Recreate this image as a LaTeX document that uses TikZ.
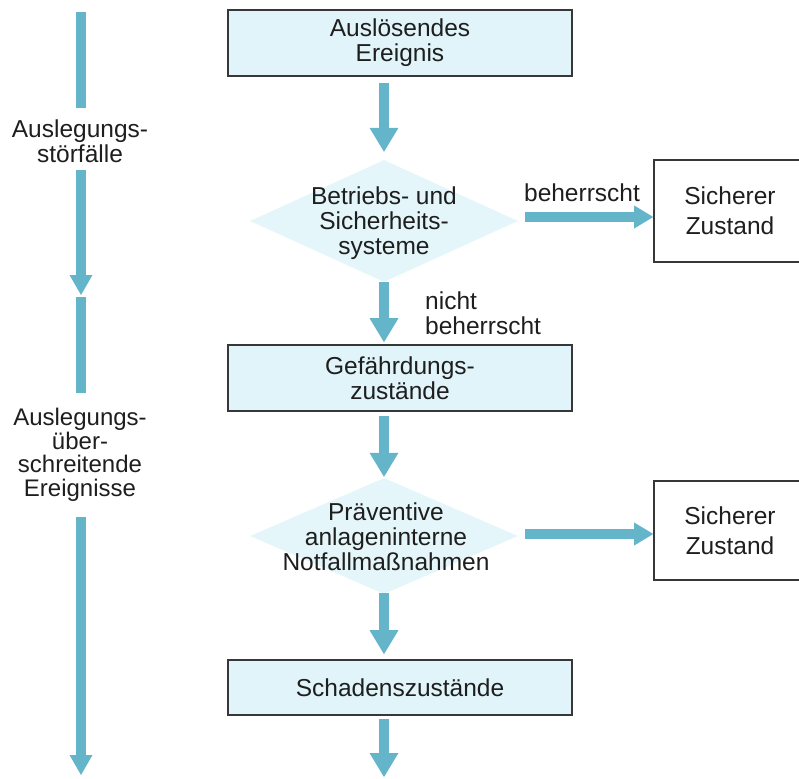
\documentclass[tikz,border=0pt]{standalone}
\usepackage{fontspec}
\setmainfont{Liberation Sans}
\usetikzlibrary{arrows.meta,shapes.geometric,calc}
\definecolor{arrowc}{RGB}{100,180,202}
\definecolor{boxfill}{RGB}{224,244,249}
\definecolor{diafill}{RGB}{228,246,250}
\definecolor{edgec}{RGB}{55,55,55}
\definecolor{textc}{RGB}{30,30,30}
\begin{document}
\begin{tikzpicture}[x=1pt,y=-1pt,
  txt/.style={font=\fontsize{24.5}{25}\selectfont, align=center, inner sep=0pt, text=textc},
  stepbox/.style={draw=edgec, line width=1.6pt, fill=boxfill, minimum width=344pt, inner sep=0pt, txt},
  endbox/.style={draw=edgec, line width=1.6pt, fill=white, minimum width=152pt, inner sep=0pt, txt, font=\fontsize{24.5}{30}\selectfont},
  decide/.style={diamond, fill=diafill, minimum width=268pt, minimum height=122pt, inner sep=0pt},
  bigarrow/.style={draw=arrowc, line width=10pt, -{Triangle[width=29pt,length=24pt,line width=0pt]}},
  sidearrow/.style={draw=arrowc, line width=10pt, -{Triangle[width=23pt,length=19pt,line width=0pt]}},
  leftarrow/.style={draw=arrowc, line width=9.5pt, -{Triangle[width=23pt,length=20pt,line width=0pt]}},
  bar/.style={draw=arrowc, line width=9.5pt},
  ]
\useasboundingbox (0,0) rectangle (799,778);

% main column
\node[stepbox, minimum height=66pt] (b1) at (400,43) {Auslösendes\\Ereignis};
\node[decide] (d1) at (384,221) {};
\node[txt] (d1t) at (384,223) {Betriebs- und\\Sicherheits-\\systeme};
\node[endbox, minimum height=102pt] (s1) at (730,211) {Sicherer\\Zustand};
\node[stepbox, minimum height=66pt] (b2) at (400,378) {Gefährdungs-\\zustände};
\node[decide, minimum height=116pt] (d2) at (384,536) {};
\node[txt] (d2t) at (386,537) {Präventive\\anlageninterne\\Notfallmaßnahmen};
\node[endbox, minimum height=99pt] (s2) at (730,530.5) {Sicherer\\Zustand};
\node[stepbox, minimum height=55pt] (b3) at (400,687.5) {Schadenszustände};
\coordinate (fin) at (384,777);

% labels
\node[txt] (lb1) at (582,193) {beherrscht};
\node[txt, align=left, anchor=north west] (lb2) at (425,292) {nicht\\beherrscht};

% vertical arrows
\draw[bigarrow, shorten <=6pt, shorten >=8pt] (b1.south -| d1.north) -- (d1.north);
\draw[bigarrow, shorten >=2pt] (d1.south) -- (b2.north -| d1.south);
\draw[bigarrow, shorten <=4pt, shorten >=1pt] (b2.south -| d2.north) -- (d2.north);
\draw[bigarrow, shorten <=-1pt, shorten >=5pt] (d2.south) -- (b3.north -| d2.south);
\draw[bigarrow, shorten <=3pt] (b3.south -| fin) -- (fin);

% side arrows
\coordinate (a1s) at ($(d1.east)+(7,-4)$);
\coordinate (a2s) at ($(d2.east)+(7,-2)$);
\draw[sidearrow] (a1s) -- (a1s -| s1.west);
\draw[sidearrow] (a2s) -- (a2s -| s2.west);

% left column
\coordinate (l1a) at (81,12);
\coordinate (l1b) at (81,108);
\node[txt] (L1) at (80,141) {Auslegungs-\\störfälle};
\coordinate (l2a) at (81,170);
\coordinate (l2b) at (81,295);
\coordinate (l3a) at (81,297);
\coordinate (l3b) at (81,393);
\node[txt, font=\fontsize{24}{23.5}\selectfont] (L2) at (80,455) {Auslegungs-\\über-\\schreitende\\Ereignisse};
\coordinate (l4a) at (81,517);
\coordinate (l4b) at (81,775);
\draw[bar] (l1a) -- (l1b);
\draw[leftarrow] (l2a) -- (l2b);
\draw[bar] (l3a) -- (l3b);
\draw[leftarrow] (l4a) -- (l4b);
\end{tikzpicture}
\end{document}
